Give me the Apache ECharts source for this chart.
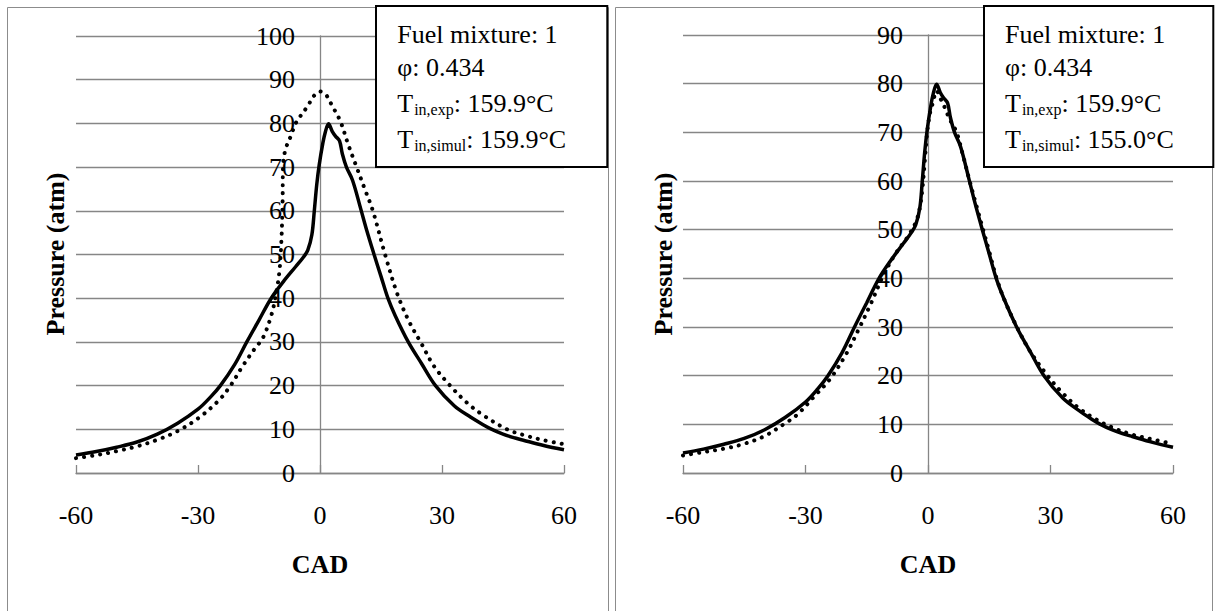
<!DOCTYPE html>
<html>
<head>
<meta charset="utf-8">
<script src="https://cdn.jsdelivr.net/npm/echarts@6/dist/echarts.min.js"></script>
<style>
  html, body { margin: 0; padding: 0; background: #fff; }
  #chart { width: 1216px; height: 611px; }
</style>
</head>
<body>
<div id="chart"></div>
<script>
// ---- Data ----
// Experimental pressure trace (solid line), same in both panels
const expCad = [-60,-55,-50,-45,-40,-35,-30,-27,-24.5,-21,-18,-15,-12,-9,-6,-4,-3,-2,-1.4,-0.8,-0.2,0.7,1.3,2.1,3,3.8,4.8,5.5,6.5,8,10,11.5,13.3,15,16.7,18.5,21.7,25,28.4,33,37,40,42,45,48,50,55,60];
const expP   = [4.1,4.9,5.9,7.1,8.9,11.4,14.6,17.3,20,24.8,30,35,40,43.8,47.2,49.5,51,54.5,60,66,70.5,75.5,78,79.9,78.2,77.1,76,73,70,67,60.5,55.5,50,45,40,36,30,25,20,15.4,12.8,11.1,10.1,8.9,8.0,7.5,6.3,5.3];

// Simulation, left panel (T_in,simul = 159.9 °C), dotted line
const simLeftCad = [-60,-55,-50,-45,-40,-35,-30,-25,-22,-19,-16,-14,-12,-11,-10,-9.5,-9.2,-9.1,-8.5,-7,-6,-3,-1.5,0,1.5,3,5,7,9,11,13,16,19,22,25,28,32,36,40,46,50,55,60];
const simLeftP   = [3.4,4.1,5.0,6.1,7.6,9.6,12.5,16.5,20,24.5,28.5,31,36,40,46,53,62,70,74,77.5,80,84,86.3,87.3,86.5,84,80.5,75,70,65,60,50,41,34.5,29.5,24.5,20,16.2,13.3,10,8.7,7.5,6.6];

// Simulation, right panel (T_in,simul = 155.0 °C), dotted line
const simRightCad = [-60,-55,-50,-45,-40,-35,-32,-28,-24,-20,-17,-14,-11,-8,-5,-3,-2,-1.3,-0.8,-0.2,0.5,1.2,2.1,3,4,5.3,7,8.5,10.2,12,13.5,15,16.8,19,22,25,29,33,37,41,45,50,55,60];
const simRightP   = [3.6,4.3,5.0,6.0,7.6,10.2,12,15.6,19.3,24.5,29.5,34.8,40.5,45,48.5,51.5,54.5,59,64,70,74,76.1,78.5,77,75.3,72.7,70,65.5,60,54.5,50,45.5,40,35,29.6,25,20.3,16.4,13.3,11.1,9.4,7.9,6.9,6.0];

// Axes
const xMin = -60, xMax = 60, xStep = 30;
const yMaxLeft = 100, yMaxRight = 90, yStep = 10;
const xTitle = 'CAD';
const yTitle = 'Pressure (atm)';

// Legend box text
const legendLeft  = ['Fuel mixture: 1', 'φ: 0.434', ['in,exp', ': 159.9°C'], ['in,simul', ': 159.9°C']];
const legendRight = ['Fuel mixture: 1', 'φ: 0.434', ['in,exp', ': 159.9°C'], ['in,simul', ': 155.0°C']];

// ---- Chart ----
const FONT = '"Liberation Serif", "Times New Roman", serif';
const GRID = '#868686';
const zip = (a, b) => a.map((v, i) => [v, b[i]]);
const grids = [
  { left: 76, top: 36, width: 488, height: 437 },
  { left: 683, top: 35, width: 490, height: 438 }
];

function xAxisOf(i) {
  return {
    type: 'value', gridIndex: i, min: xMin, max: xMax, interval: xStep,
    name: xTitle, nameLocation: 'middle', nameGap: 78,
    nameTextStyle: { fontFamily: FONT, fontSize: 26, fontWeight: 'bold', color: '#000' },
    axisLine: { onZero: false, lineStyle: { color: GRID, width: 1.3 } },
    axisTick: { show: true, inside: true, length: 8, lineStyle: { color: GRID, width: 1.3 } },
    axisLabel: { fontFamily: FONT, fontSize: 26, color: '#000', margin: 29 },
    splitLine: { show: false }
  };
}
function yAxisOf(i, max) {
  // y axis crosses the x axis at CAD = 0 (inside the plot)
  const zeroOffset = grids[i].width * (0 - xMin) / (xMax - xMin);
  return {
    type: 'value', gridIndex: i, min: 0, max: max, interval: yStep,
    position: 'left', offset: -zeroOffset,
    axisLine: { show: true, onZero: false, lineStyle: { color: GRID, width: 1.3 } },
    axisTick: { show: false },
    axisLabel: { fontFamily: FONT, fontSize: 26, color: '#000', margin: 25 },
    splitLine: { show: true, lineStyle: { color: GRID, width: 1.3 } }
  };
}
function solid(i, cad, p) {
  return {
    type: 'line', xAxisIndex: i, yAxisIndex: i, data: zip(cad, p),
    showSymbol: false, smooth: 0.35, z: 3,
    lineStyle: { color: '#000', width: 3.5 }
  };
}
function dotted(i, cad, p) {
  return {
    type: 'line', xAxisIndex: i, yAxisIndex: i, data: zip(cad, p),
    showSymbol: false, smooth: 0.35, z: 4,
    lineStyle: { color: '#000', width: 4, type: [0.1, 8], cap: 'round' }
  };
}
function legendGraphics(lines, boxX, boxW, textX) {
  const ys = [34, 67.5, 103, 139];
  const els = [{
    type: 'rect', z: 100,
    shape: { x: boxX, y: 6, width: boxW, height: 161 },
    style: { fill: '#fff', stroke: '#000', lineWidth: 2 }
  }];
  lines.forEach((ln, k) => {
    let text, rich;
    if (Array.isArray(ln)) {
      text = 'T{s|' + ln[0] + '}' + ln[1];
      rich = { s: { fontFamily: FONT, fontSize: 16, padding: [13, 0, 0, 1], fill: '#000' } };
    } else {
      text = ln;
    }
    els.push({
      type: 'text', z: 101, x: textX, y: ys[k],
      style: { text: text, rich: rich, fontFamily: FONT, fontSize: 26, fill: '#000', align: 'left', verticalAlign: 'middle' }
    });
  });
  return els;
}
function yTitleGraphic(x) {
  return {
    type: 'text', z: 50, x: x, y: 254, rotation: Math.PI / 2,
    style: { text: yTitle, fontFamily: FONT, fontSize: 26, fontWeight: 'bold', fill: '#000', align: 'center', verticalAlign: 'middle' }
  };
}

const chart = echarts.init(document.getElementById('chart'), null, { renderer: 'svg' });
chart.setOption({
  animation: false,
  backgroundColor: '#fff',
  grid: grids,
  xAxis: [xAxisOf(0), xAxisOf(1)],
  yAxis: [yAxisOf(0, yMaxLeft), yAxisOf(1, yMaxRight)],
  series: [
    solid(0, expCad, expP),
    dotted(0, simLeftCad, simLeftP),
    solid(1, expCad, expP),
    dotted(1, simRightCad, simRightP)
  ],
  graphic: [
    { type: 'rect', z: -10, shape: { x: 7.5, y: 7.5, width: 601, height: 620 }, style: { fill: 'none', stroke: '#8c8c8c', lineWidth: 1 } },
    { type: 'rect', z: -10, shape: { x: 615.5, y: 7.5, width: 597, height: 620 }, style: { fill: 'none', stroke: '#8c8c8c', lineWidth: 1 } },
    yTitleGraphic(55.6),
    yTitleGraphic(663),
    ...legendGraphics(legendLeft, 376, 231.3, 397.3),
    ...legendGraphics(legendRight, 984, 229.3, 1005)
  ]
});
</script>
</body>
</html>
